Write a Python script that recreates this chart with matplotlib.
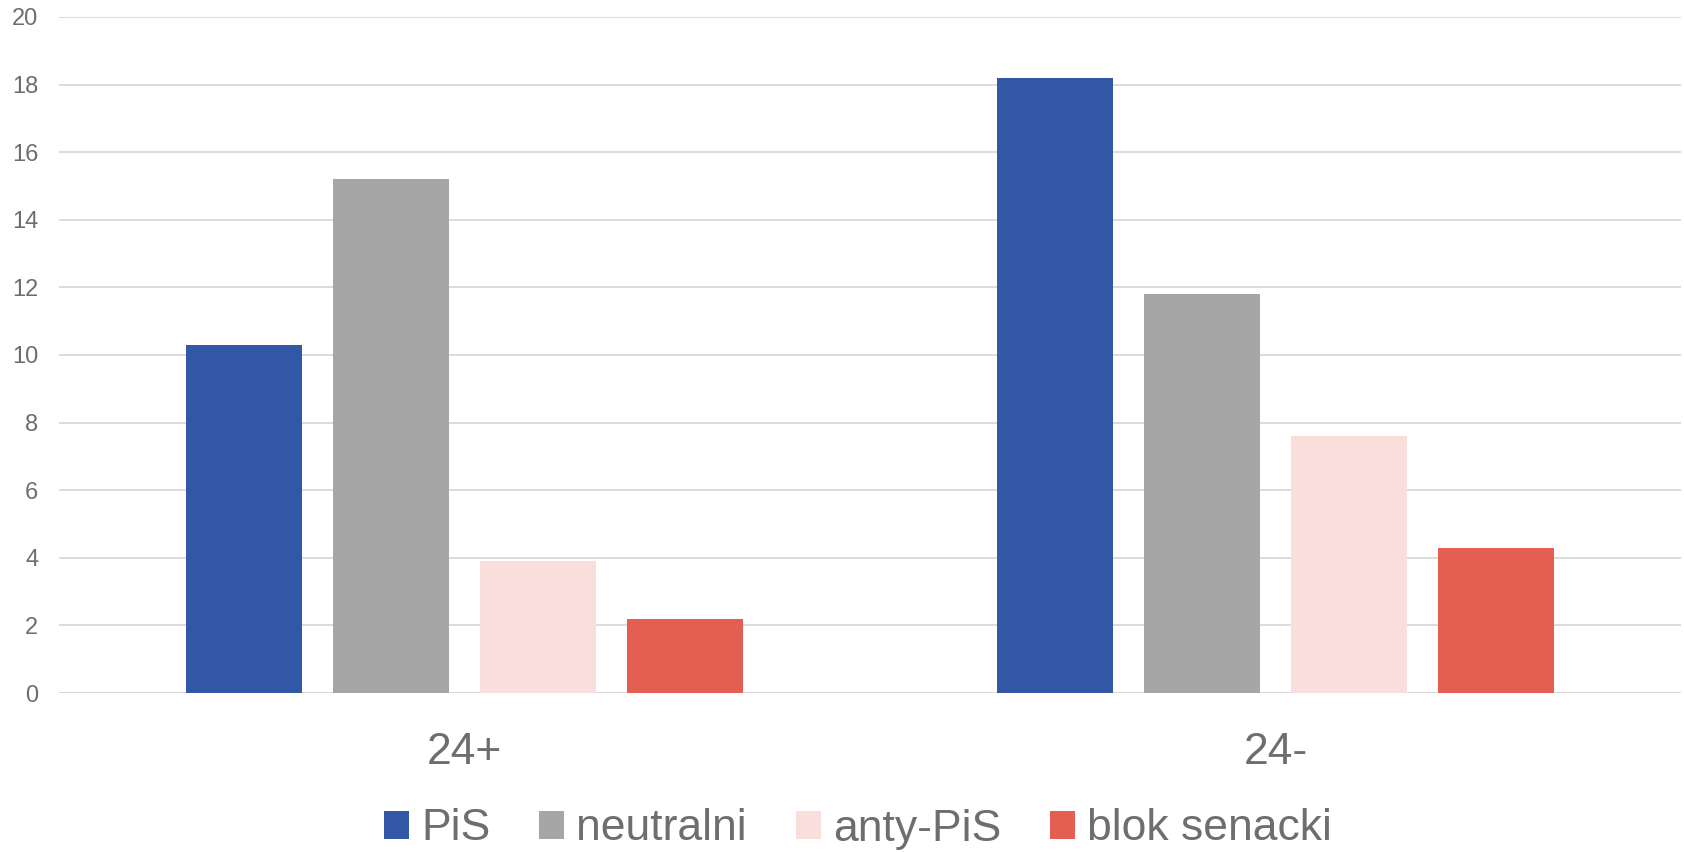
import numpy as np
import matplotlib.pyplot as plt

plt.rcParams['font.family'] = ['Liberation Sans', 'DejaVu Sans']

# data
categories = ['24+', '24-']
series = ['PiS', 'neutralni', 'anty-PiS', 'blok senacki']
values = {
    'PiS': [10.3, 18.2],
    'neutralni': [15.2, 11.8],
    'anty-PiS': [3.9, 7.6],
    'blok senacki': [2.2, 4.3],
}
colors = ['#3257A5', '#A6A6A6', '#FADEDB', '#E55E52']
yticks = [0, 2, 4, 6, 8, 10, 12, 14, 16, 18, 20]

text_col = '#6E6E6E'
grid_col = '#D9D9D9'

fig = plt.figure(figsize=(16.84, 8.52), dpi=100)
ax = fig.add_axes([59 / 1684, 159 / 852, 1622 / 1684, 676 / 852])

x = np.arange(len(categories))
width = 0.143
step = 0.181
for i, name in enumerate(series):
    ax.bar(x + (i - 1.5) * step, values[name], width=width,
           color=colors[i], label=name, zorder=3)

ax.set_xlim(-0.5, len(categories) - 0.5)
ax.set_ylim(0, 20)
ax.set_yticks(yticks)
ax.yaxis.grid(True, color=grid_col, linewidth=1.3, zorder=0)
ax.set_axisbelow(True)
for sp in ax.spines.values():
    sp.set_visible(False)
ax.axhline(0, color=grid_col, linewidth=1.3, zorder=2)

ax.tick_params(axis='y', length=0, pad=15, labelsize=17, labelcolor=text_col)
ax.tick_params(axis='x', length=0, pad=28, labelsize=32, labelcolor=text_col)
ax.set_xticks(x)
ax.set_xticklabels(categories)

leg = fig.legend(loc='center', bbox_to_anchor=(858 / 1684, 23 / 852), ncol=4,
                 frameon=False, fontsize=32, handlelength=0.56, handleheight=0.6,
                 handletextpad=0.27, columnspacing=1.1, borderaxespad=0)
for t in leg.get_texts():
    t.set_color(text_col)

plt.savefig('out.png', dpi=100)
